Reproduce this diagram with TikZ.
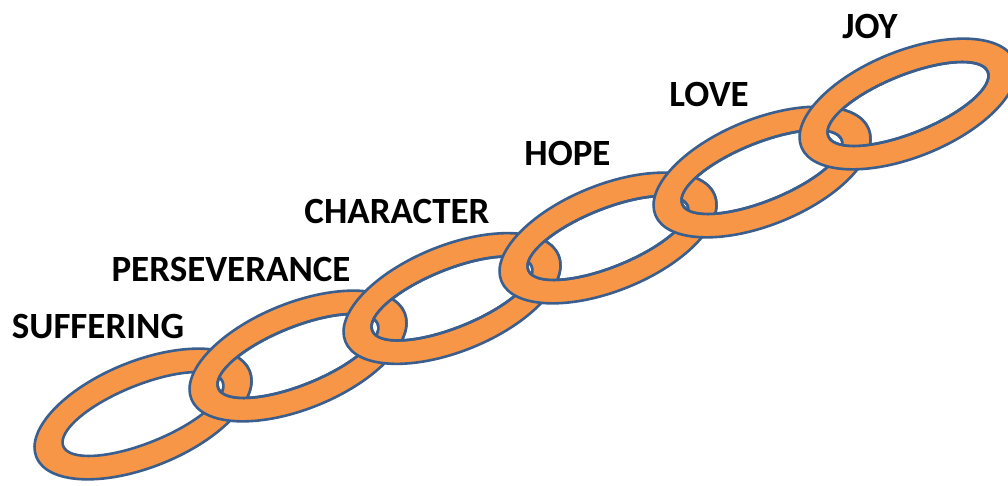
\documentclass[tikz,border=0pt]{standalone}
\usepackage{fontspec}
\setmainfont{Carlito}
\definecolor{linkfill}{HTML}{F79646}
\definecolor{linkedge}{HTML}{3A5F8E}
\tikzset{
  chain ring/.style={fill=linkfill,draw=linkedge,line width=2.6pt,even odd rule},
  chain edge/.style={draw=linkedge,line width=2.6pt},
  chain label/.style={font=\fontsize{37}{44}\selectfont\bfseries,inner sep=0pt}
}

\begin{document}
\begin{tikzpicture}[x=1pt,y=1pt]
  \useasboundingbox (0,0) rectangle (1008,485);
  % links, each one over the last; the last one peeps through the new hole
  \foreach \cx/\cy [count=\i,remember=\cx as \px (initially 0),remember=\cy as \py (initially 0)]
      in {143/71,298/129,452/186.5,608/247,762/313,908/381}{
    \coordinate (link\i) at (\cx,\cy);
    \path[chain ring,rotate around={22:(\cx,\cy)}]
      (\cx,\cy) ellipse [x radius=115,y radius=53]
      (\cx,\cy) ellipse [x radius=86,y radius=29];
    \ifnum\i>1
      \begin{scope}
        \clip[rotate around={22:(\cx,\cy)}] (\cx,\cy) ellipse [x radius=86,y radius=29];
        \path[chain ring,rotate around={22:(\px,\py)}]
          (\px,\py) ellipse [x radius=115,y radius=53]
          (\px,\py) ellipse [x radius=86,y radius=29];
      \end{scope}
      \draw[chain edge,rotate around={22:(\cx,\cy)}] (\cx,\cy) ellipse [x radius=86,y radius=29];
    \fi
  }
  % labels
  \node[chain label] (suffering) at (98,158) {SUFFERING};
  \node[chain label] (perseverance) at (231,216) {PERSEVERANCE};
  \node[chain label] (character) at (397,273.5) {CHARACTER};
  \node[chain label] (hope) at (567.5,331.5) {HOPE};
  \node[chain label] (love) at (709,390.5) {LOVE};
  \node[chain label] (joy) at (870,459) {JOY};
\end{tikzpicture}
\end{document}
